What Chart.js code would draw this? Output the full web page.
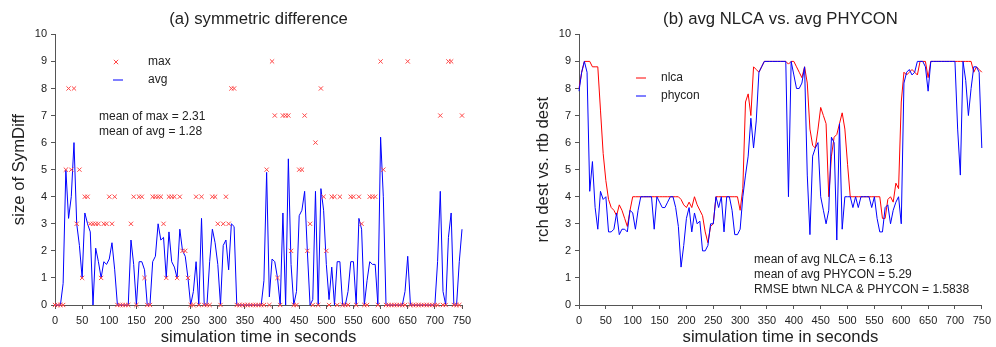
<!DOCTYPE html>
<html>
<head>
<meta charset="utf-8">
<title>SymDiff and NLCA vs PHYCON</title>
<script src="https://cdn.jsdelivr.net/npm/chart.js@4.4.1/dist/chart.umd.min.js"></script>
<style>
  html, body { margin: 0; padding: 0; background: #fff; }
  #wrap { display: flex; width: 996px; height: 347px; }
  canvas { display: block; }
</style>
</head>
<body>
<div id="wrap">
  <canvas id="symChart" width="498" height="347"></canvas>
  <canvas id="destChart" width="498" height="347"></canvas>
</div>
<script>
// samples every 5 seconds, 0..750
const sampleStep = 5;

// (a) symmetric difference
const maxSym = [
  0, 0, 0, 0, 5, 8, 5, 8, 3, 5,
  1, 4, 4, 3, 3, 3, 3, 1, 3, 3,
  4, 3, 4, 0, 0, 0, 0, 0, 3, 4,
  0, 4, 4, 1, 0, 0, 4, 4, 4, 4,
  3, 1, 4, 4, 4, 1, 4, 2, 2, 1,
  0, 0, 4, 0, 4, 0, 0, 0, 4, 4,
  3, 0, 3, 4, 3, 8, 8, 0, 0, 0,
  0, 0, 0, 0, 0, 0, 0, 0, 5, 0,
  9, 7, 1, 0, 7, 7, 7, 2, 0, 0,
  5, 5, 7, 2, 3, 0, 6, 0, 8, 4,
  2, 0, 4, 4, 0, 4, 0, 0, 0, 4,
  4, 0, 4, 3, 0, 0, 4, 4, 4, 0,
  9, 5, 0, 0, 0, 0, 0, 0, 0, 0,
  9, 0, 0, 0, 0, 0, 0, 0, 0, 0,
  0, 0, 7, 0, 0, 9, 9, 0, 0, 0,
  7
];
const avgSym = [
  0, 0, 0, 0.8, 5.0, 3.2, 4.0, 6.0, 3.0, 2.2,
  1.0, 3.4, 3.0, 2.7, 0, 2.1, 1.6, 1.0, 1.6, 1.5,
  1.7, 2.3, 1.3, 0, 0, 0, 0, 0, 2.4, 1.5,
  0, 1.6, 1.6, 1.3, 0, 0, 1.6, 1.8, 3.0, 2.4,
  2.5, 1.0, 2.7, 1.6, 1.4, 1.0, 2.8, 2.0, 1.8, 1.0,
  0, 0.5, 1.6, 0, 3.2, 0, 0, 1.6, 2.8, 2.3,
  1.5, 0, 2.2, 2.4, 1.3, 3.0, 2.9, 0, 0, 0,
  0, 0, 0, 0, 0, 0, 0, 0.9, 4.9, 0.3,
  1.7, 1.6, 1.0, 0, 3.4, 0, 5.4, 1.5, 0, 0.5,
  3.3, 3.5, 4.2, 2.0, 0, 0.2, 4.2, 0, 4.3, 3.5,
  1.5, 0.2, 1.4, 0, 1.6, 1.6, 0, 0, 0.5, 1.6,
  1.6, 0, 3.2, 2.8, 0, 0.9, 1.6, 1.5, 1.5, 0,
  6.2, 4.0, 0, 0, 0, 0, 0, 0, 0, 0.5,
  1.8, 0, 0, 0, 0, 0, 0, 0, 0, 0,
  0, 1.6, 4.2, 0.5, 0, 2.5, 3.4, 0, 0, 1.6,
  2.8
];

// (b) avg NLCA vs. avg PHYCON
const nlcaAvg = [
  8.0, 8.6, 9.0, 9.0, 9.0, 8.8, 8.8, 8.8, 7.2, 5.6,
  4.6, 3.9, 3.6, 3.5, 3.3, 3.7, 3.5, 3.2, 2.9, 3.5,
  4.0, 4.0, 4.0, 4.0, 4.0, 4.0, 4.0, 4.0, 4.0, 4.0,
  4.0, 4.0, 4.0, 4.0, 4.0, 4.0, 4.0, 4.0, 3.9, 3.7,
  3.6, 3.8, 3.6, 4.0, 3.7, 3.5, 3.3, 2.7, 2.3, 2.9,
  3.0, 4.0, 4.0, 4.0, 4.0, 4.0, 4.0, 4.0, 4.0, 4.0,
  3.5, 4.3, 7.5, 7.8, 7.0, 8.8, 8.7, 8.6, 8.8, 9.0,
  9.0, 9.0, 9.0, 9.0, 9.0, 9.0, 9.0, 9.0, 8.9, 9.0,
  9.0, 8.8, 8.6, 8.4, 8.8, 8.2, 6.5, 5.9, 5.8, 6.5,
  7.3, 7.0, 6.7, 4.0, 5.5, 6.2, 6.3, 6.7, 7.1, 6.5,
  5.2, 4.0, 4.0, 4.0, 4.0, 4.0, 4.0, 4.0, 4.0, 4.0,
  4.0, 4.0, 4.0, 3.2, 3.2, 3.9, 4.0, 3.8, 4.5, 4.3,
  7.5, 8.6, 8.5, 8.6, 8.7, 8.6, 8.5, 9.0, 9.0, 9.0,
  8.4, 9.0, 9.0, 9.0, 9.0, 9.0, 9.0, 9.0, 9.0, 9.0,
  9.0, 9.0, 9.0, 9.0, 9.0, 9.0, 9.0, 8.6, 8.8, 8.7,
  8.6
];
const phyconAvg = [
  7.9, 8.6, 9.0, 8.6, 4.2, 5.3, 3.6, 2.8, 4.2, 3.9,
  4.0, 2.7, 2.7, 2.8, 3.4, 2.6, 2.8, 2.8, 2.7, 3.5,
  3.4, 2.8, 3.5, 4.0, 4.0, 4.0, 4.0, 4.0, 2.8, 4.0,
  3.8, 3.6, 3.6, 3.8, 4.0, 4.0, 3.6, 2.9, 1.4, 2.2,
  3.2, 3.6, 2.7, 3.4, 3.0, 3.1, 2.0, 2.0, 2.2, 3.0,
  3.0, 4.0, 3.6, 4.0, 2.7, 4.0, 4.0, 3.5, 2.6, 2.6,
  2.8, 4.0, 4.8, 5.5, 6.9, 5.8, 6.8, 8.6, 8.8, 9.0,
  9.0, 9.0, 9.0, 9.0, 9.0, 9.0, 9.0, 9.0, 4.0, 9.0,
  8.5, 8.0, 8.0, 8.2, 8.8, 4.8, 2.6, 5.5, 5.8, 6.0,
  4.0, 3.5, 3.0, 3.5, 6.2, 6.0, 2.4, 6.7, 2.8, 4.0,
  4.0, 4.0, 3.6, 4.0, 3.6, 4.0, 4.0, 4.0, 4.0, 3.6,
  4.0, 3.2, 2.7, 2.7, 3.6, 3.7, 3.0, 3.5, 3.8, 4.0,
  3.0, 8.2, 8.6, 8.7, 8.5, 8.6, 9.0, 9.0, 9.0, 8.8,
  7.9, 9.0, 9.0, 9.0, 9.0, 9.0, 9.0, 9.0, 9.0, 9.0,
  9.0, 6.5, 4.8, 9.0, 8.3, 7.0, 8.0, 8.8, 8.8, 8.6,
  5.8
];

const xTickValues = [0, 50, 100, 150, 200, 250, 300, 350, 400, 450, 500, 550, 600, 650, 700, 750];
const yTickValues = [0, 1, 2, 3, 4, 5, 6, 7, 8, 9, 10];

const symNotes = ['mean of max = 2.31', 'mean of avg = 1.28'];
const destNotes = ['mean of avg NLCA = 6.13', 'mean of avg PHYCON = 5.29', 'RMSE btwn NLCA & PHYCON = 1.5838'];

const FONT = "'Liberation Sans', Arial, sans-serif";
const AXIS_COLOR = '#555';
const TEXT_COLOR = '#222';
const MARK_RED = '#ff4646';
const BIG = 16.7;

Chart.defaults.font.family = FONT;
Chart.defaults.color = TEXT_COLOR;

function toPoints(values) {
  return values.map((v, i) => ({ x: i * sampleStep, y: v }));
}

// legend keys and text notes, drawn inside the plot
const notesPlugin = {
  id: 'notes',
  afterDraw(chart, args, opts) {
    const ctx = chart.ctx;
    ctx.save();
    ctx.font = '12px ' + FONT;
    ctx.fillStyle = TEXT_COLOR;
    ctx.textBaseline = 'middle';
    ctx.textAlign = 'left';

    for (const key of opts.keys || []) {
      ctx.strokeStyle = key.color;
      ctx.lineWidth = 1;
      ctx.beginPath();
      if (key.kind === 'cross') {
        const r = 2.2;
        ctx.moveTo(key.x - r, key.y - r); ctx.lineTo(key.x + r, key.y + r);
        ctx.moveTo(key.x - r, key.y + r); ctx.lineTo(key.x + r, key.y - r);
      } else {
        ctx.moveTo(key.x - 5, key.y); ctx.lineTo(key.x + 5, key.y);
      }
      ctx.stroke();
      ctx.fillText(key.label, key.tx, key.y);
    }

    (opts.lines || []).forEach((text, i) => {
      ctx.fillText(text, opts.lx, opts.ly + i * opts.gap);
    });
    ctx.restore();
  }
};

function axisOptions(yTitle, yWidth, yTitlePad) {
  return {
    x: {
      type: 'linear', min: 0, max: 750,
      afterBuildTicks: s => { s.ticks = xTickValues.map(v => ({ value: v })); },
      afterFit: s => { s.height = 42; },
      ticks: { autoSkip: false, maxRotation: 0, padding: 5, font: { size: 11 }, color: TEXT_COLOR },
      grid: { drawOnChartArea: false, tickLength: 4, color: AXIS_COLOR },
      border: { color: AXIS_COLOR },
      title: { display: true, text: 'simulation time in seconds', font: { size: BIG }, color: TEXT_COLOR, padding: { top: 0, bottom: 0 } }
    },
    y: {
      min: 0, max: 10,
      afterBuildTicks: s => { s.ticks = yTickValues.map(v => ({ value: v })); },
      afterFit: s => { s.width = yWidth; },
      ticks: { padding: 4, font: { size: 11 }, color: TEXT_COLOR },
      grid: { drawOnChartArea: false, tickLength: 4, color: AXIS_COLOR },
      border: { color: AXIS_COLOR },
      title: { display: true, text: yTitle, font: { size: BIG }, color: TEXT_COLOR, padding: { top: yTitlePad, bottom: 0 } }
    }
  };
}

function baseOptions(title, padRight, scales, notes) {
  return {
    responsive: false,
    animation: false,
    devicePixelRatio: 1,
    layout: { padding: { left: 0, right: padRight, top: 0, bottom: 0 } },
    scales: scales,
    plugins: {
      legend: { display: false },
      tooltip: { enabled: false },
      title: {
        display: true, text: title, fullSize: false,
        font: { size: BIG, weight: 'normal' }, color: TEXT_COLOR,
        padding: { top: 9, bottom: 5.3 }
      },
      notes: notes
    }
  };
}

function createSymChart() {
  const ctx = document.getElementById('symChart').getContext('2d');
  new Chart(ctx, {
    type: 'line',
    data: {
      datasets: [{
        label: 'max',
        data: toPoints(maxSym),
        showLine: false,
        pointStyle: 'crossRot',
        pointRadius: 3,
        pointBorderWidth: 1,
        borderColor: MARK_RED,
        pointBorderColor: MARK_RED,
        clip: false
      }, {
        label: 'avg',
        data: toPoints(avgSym),
        borderColor: '#0000ff',
        borderWidth: 1,
        pointRadius: 0,
        tension: 0,
        clip: false
      }]
    },
    options: baseOptions('(a) symmetric difference', 36, axisOptions('size of SymDiff', 55, 9), {
      keys: [
        { kind: 'cross', x: 116, y: 62, tx: 148, label: 'max', color: MARK_RED },
        { kind: 'line', x: 118, y: 80, tx: 148, label: 'avg', color: '#0000ff' }
      ],
      lines: symNotes, lx: 99, ly: 117, gap: 15
    }),
    plugins: [notesPlugin]
  });
}

function createDestChart() {
  const ctx = document.getElementById('destChart').getContext('2d');
  new Chart(ctx, {
    type: 'line',
    data: {
      datasets: [{
        label: 'phycon',
        data: toPoints(phyconAvg),
        borderColor: '#0000ff',
        borderWidth: 1,
        pointRadius: 0,
        tension: 0,
        clip: false
      }, {
        label: 'nlca',
        data: toPoints(nlcaAvg),
        borderColor: '#ff0000',
        borderWidth: 1,
        pointRadius: 0,
        tension: 0,
        clip: false
      }]
    },
    options: baseOptions('(b) avg NLCA vs. avg PHYCON', 10, axisOptions('rch dest vs. rtb dest', 81, 35), {
      keys: [
        { kind: 'line', x: 143, y: 78, tx: 163, label: 'nlca', color: '#ff0000' },
        { kind: 'line', x: 143, y: 96, tx: 163, label: 'phycon', color: '#0000ff' }
      ],
      lines: destNotes, lx: 256, ly: 260, gap: 15
    }),
    plugins: [notesPlugin]
  });
}

window.addEventListener('DOMContentLoaded', () => {
  createSymChart();
  createDestChart();
});
</script>
</body>
</html>
